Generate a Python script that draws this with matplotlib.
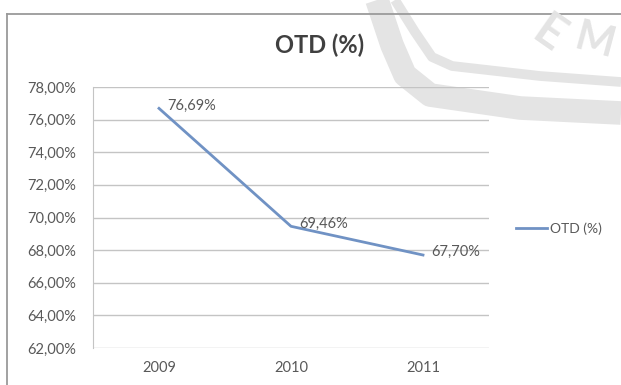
import matplotlib
matplotlib.use("Agg")
import matplotlib.pyplot as plt
from matplotlib.ticker import FuncFormatter

plt.rcParams['font.family'] = ['Lato', 'DejaVu Sans']

years = ['2009', '2010', '2011']
otd = [76.69, 69.46, 67.70]
y_ticks = [62, 64, 66, 68, 70, 72, 74, 76, 78]
series_name = 'OTD (%)'

line_color = '#7092c4'
text_color = '#595959'
grid_color = '#c4c4c4'
mark_color = '#e4e4e4'

W, H = 621, 385
fig = plt.figure(figsize=(W / 100, H / 100), dpi=100)

# background layer in pixel coordinates: frame and faint logo
bg = fig.add_axes([0, 0, 1, 1], zorder=0)
bg.set_xlim(0, W)
bg.set_ylim(H, 0)
bg.axis('off')
bg.plot([377, 392, 405, 430, 520, 621], [0, 45, 75, 95, 108, 113],
        color=mark_color, lw=17, solid_capstyle='butt', solid_joinstyle='round')
bg.plot([395, 415, 432, 452, 540, 621], [0, 32, 57, 66, 76, 82],
        color=mark_color, lw=7, solid_capstyle='butt', solid_joinstyle='round')
bg.text(548, 34, 'E', fontsize=34, fontweight='bold', color=mark_color,
        rotation=-35, ha='center', va='center')
bg.text(619, 42, 'M', fontsize=30, fontweight='bold', color=mark_color,
        rotation=-15, ha='right', va='center')
bg.plot([7, W + 5], [14, 14], color='#9a9a9a', lw=1.3)
bg.plot([7, 7], [14, H + 5], color='#9a9a9a', lw=1.3)

ax = fig.add_axes([93 / W, 1 - 348 / H, (489 - 93) / W, (348 - 87) / H], zorder=1)
ax.patch.set_alpha(0)

x = range(len(years))
ax.plot(x, otd, color=line_color, lw=2.0, label=series_name)
for xi, v in zip(x, otd):
    ax.annotate(f'{v:.2f}%'.replace('.', ','), (xi, v), xytext=(6, 2),
                textcoords='offset points', ha='left', va='center',
                fontsize=10.5, color=text_color)

ax.set_xlim(-0.5, len(years) - 0.5)
ax.set_xticks(list(x))
ax.set_xticklabels(years)
ax.set_ylim(y_ticks[0], y_ticks[-1])
ax.set_yticks(y_ticks)
ax.yaxis.set_major_formatter(FuncFormatter(lambda v, p: f'{v:.2f}%'.replace('.', ',')))
ax.grid(axis='y', color=grid_color, lw=1)
ax.tick_params(length=0, labelsize=10.5, labelcolor=text_color)
ax.tick_params(axis='y', pad=12)
ax.tick_params(axis='x', pad=9)
for s in ['top', 'right', 'bottom']:
    ax.spines[s].set_visible(False)
ax.spines['left'].set_color(grid_color)

fig.text(320 / W, 1 - 45 / H, 'OTD (%)', ha='center', va='center',
         fontsize=17, fontweight='bold', color='#404040')

fig.legend(loc='center left', bbox_to_anchor=(503 / W, 1 - 229 / H), frameon=False,
           fontsize=10, handlelength=2.3, handletextpad=0.2, labelcolor=text_color)

fig.savefig('out.png', dpi=100, facecolor='white')
